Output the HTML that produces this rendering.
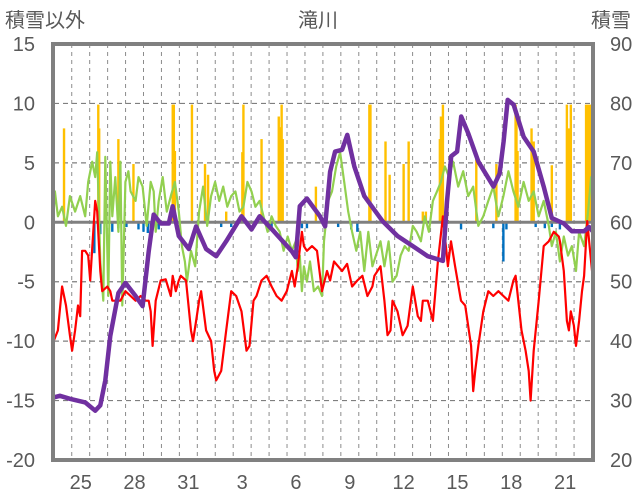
<!DOCTYPE html>
<html><head><meta charset="utf-8">
<style>
html,body{margin:0;padding:0;background:#fff;}
svg{display:block;font-family:"Liberation Sans","Noto Sans CJK JP",sans-serif;}
.tk{font-size:20px;fill:#595959;}
</style></head>
<body>
<svg id="chart" width="636" height="501" viewBox="0 0 636 501">
<text x="5" y="27" class="tk">積雪以外</text>
<text x="318" y="27" class="tk" text-anchor="middle">滝川</text>
<text x="631" y="27" class="tk" text-anchor="end">積雪</text>
<defs><clipPath id="pc"><rect x="54" y="44" width="538" height="416"/></clipPath></defs>
<g id="grid"></g>
<g id="bars" clip-path="url(#pc)"></g>
<g id="lines" clip-path="url(#pc)"></g>
<rect x="53" y="44" width="540" height="416" fill="none" stroke="#808080" stroke-width="4"/>
<g id="axes"></g>
</svg>
<script>
const leftTicks=[15,10,5,0,-5,-10,-15,-20];
const rightTicks=[90,80,70,60,50,40,30,20];
const dayLabels=["25","28","31","3","6","9","12","15","18","21"];
const dayLabelOffsets=[0,3,6,9,12,15,18,21,24,27];
const orangeT=[-0.43,1.48,1.53,2.60,3.44,5.63,5.69,5.75,6.70,7.43,7.60,8.61,9.51,9.57,10.58,11.54,11.59,11.70,11.76,13.61,16.59,16.65,17.49,17.72,18.50,18.78,19.57,19.74,20.52,20.58,20.69,22.55,23.67,24.74,24.79,24.85,25.63,25.75,26.76,27.60,27.71,27.82,28.67,28.78,28.89];
const orangeV=[7.9,9.9,7.9,7.0,4.9,9.9,9.9,6.0,9.9,4.9,4.0,0.9,5.9,9.9,7.0,8.9,8.0,9.9,7.0,3.0,9.9,9.9,6.8,4.0,4.9,6.8,0.9,0.9,7.0,8.9,9.9,5.9,4.9,9.9,8.9,6.0,7.9,6.8,4.8,9.9,7.9,9.9,9.9,9.9,9.9];
const blueT=[1.26,1.59,2.26,2.60,3.05,3.72,4.0,4.24,4.40,4.85,8.33,8.89,11.14,12.66,12.83,13.11,14.85,15.58,15.92,21.70,23.50,24.06,24.23,25.86,26.37,26.76,27.21];
const blueV=[-2.6,-1.0,-0.8,-0.5,-0.4,-0.6,-0.8,-0.9,-0.6,-0.6,-0.4,-0.4,-0.6,-0.8,-0.5,-0.5,-0.4,-0.6,-0.8,-0.6,-0.5,-3.3,-0.6,-0.4,-0.5,-0.4,-0.6];
const greenT=[-1.67,-1.5,-1.33,-1.11,-0.94,-0.77,-0.54,-0.32,-0.1,0.19,0.47,0.75,0.92,1.14,1.31,1.42,1.59,1.76,1.87,2.04,2.15,2.26,2.43,2.60,2.71,2.82,2.99,3.16,3.28,3.56,3.72,3.95,4.18,4.40,4.57,4.68,4.85,5.07,5.30,5.52,5.75,5.97,6.14,6.31,6.42,6.65,6.88,7.10,7.32,7.55,7.77,7.99,8.22,8.44,8.67,8.89,9.12,9.35,9.57,9.79,10.02,10.24,10.47,10.69,10.92,11.14,11.37,11.59,11.81,12.04,12.27,12.49,12.60,12.71,12.83,12.94,13.11,13.28,13.50,13.73,13.95,14.06,14.29,14.51,14.74,14.96,15.19,15.41,15.63,15.86,16.08,16.31,16.53,16.76,17.04,17.21,17.43,17.66,17.88,18.11,18.33,18.56,18.78,19.01,19.23,19.46,19.68,19.91,20.13,20.36,20.58,20.80,21.03,21.26,21.54,21.82,22.10,22.38,22.66,22.94,23.22,23.50,23.78,24.06,24.34,24.62,24.90,25.19,25.47,25.75,26.03,26.31,26.59,26.76,26.99,27.21,27.43,27.66,27.88,28.11,28.28,28.56,28.78,28.95,29.12];
const greenV=[2.6,-1.2,2.2,-1.6,2.6,0.5,1.3,-0.3,2.2,0.9,2.2,0.5,3.4,5.1,3.8,5.9,-3.3,-6.6,5.5,-6.2,5.1,0.5,3.8,-0.8,5.1,-7.0,3.4,4.3,2.6,1.8,3.8,3.0,-0.3,3.4,2.6,-0.8,1.8,3.8,0.9,2.2,3.4,0.9,-2.0,-3.3,-5.0,-2.4,-3.7,0.9,3.0,-0.3,2.2,3.4,1.8,3.0,1.3,2.2,2.6,0.9,1.3,3.4,2.6,1.3,1.8,0.5,-0.8,0.5,-0.3,-0.8,-2.4,-1.2,-2.4,-1.6,-4.1,-2.8,-5.8,-3.7,-5.0,-3.3,-5.8,-5.4,-6.2,-1.6,1.8,2.6,4.7,5.9,3.4,0.9,-0.8,-2.4,-0.8,-4.1,-0.8,-3.7,-2.4,-1.6,-3.7,-1.6,-5.0,-4.5,-2.8,-2.0,-2.4,-0.3,-0.8,-1.6,0.5,-0.8,1.8,2.6,3.4,4.7,3.8,5.1,3.0,4.3,2.2,3.0,-0.3,0.5,1.8,3.0,0.5,2.2,4.3,2.6,1.3,3.4,1.8,2.6,0.5,1.8,-0.3,-2.0,-0.8,-3.3,-1.2,-2.8,-2.0,-4.1,-0.8,-2.0,0.9,3.8,1.3];
const redT=[-1.67,-1.5,-1.22,-0.77,-0.54,-0.32,-0.1,0.02,0.19,0.35,0.47,0.58,0.75,0.92,1.03,1.31,1.42,1.59,1.70,1.98,2.15,2.26,2.43,2.71,2.99,3.28,3.56,3.84,4.12,4.29,4.40,4.51,4.68,4.96,5.24,5.52,5.63,5.80,5.97,6.08,6.37,6.65,6.76,6.93,7.10,7.21,7.49,7.77,7.94,8.05,8.33,8.61,8.89,9.17,9.46,9.74,9.91,10.13,10.30,10.58,10.86,11.14,11.42,11.70,11.99,12.27,12.43,12.60,12.83,12.94,13.11,13.39,13.67,13.95,14.23,14.40,14.62,14.85,15.07,15.35,15.63,15.92,16.20,16.48,16.76,16.87,17.21,17.43,17.60,17.77,17.88,18.16,18.44,18.72,19.01,19.29,19.46,19.57,19.85,20.13,20.41,20.69,20.97,21.14,21.37,21.70,21.93,22.26,22.38,22.49,22.66,22.94,23.22,23.50,23.78,24.06,24.34,24.62,24.74,25.07,25.30,25.47,25.58,25.75,26.03,26.31,26.59,26.87,27.15,27.21,27.43,27.60,27.71,27.82,27.99,28.11,28.28,28.44,28.56,28.73,28.95,29.17];
const redV=[-12.5,-14.6,-10.8,-9.1,-5.4,-7.0,-9.5,-10.8,-9.1,-7.0,-7.9,-2.4,-2.4,-2.8,-4.9,1.8,0.9,-4.1,-5.8,-5.4,-5.8,-6.6,-6.6,-6.6,-5.8,-6.2,-6.6,-6.2,-6.6,-6.6,-7.5,-10.4,-6.6,-4.9,-4.8,-6.2,-4.5,-5.8,-4.9,-4.5,-4.9,-9.1,-10.0,-8.3,-6.6,-5.8,-9.1,-10.0,-12.5,-13.3,-12.5,-9.1,-5.8,-6.2,-7.5,-10.8,-10.4,-6.6,-6.2,-4.9,-4.5,-5.4,-6.2,-6.6,-5.8,-4.1,-5.4,-3.7,-0.8,-2.0,-2.4,-2.0,-2.4,-5.8,-4.1,-4.9,-3.3,-3.7,-4.1,-3.5,-5.4,-4.9,-4.5,-6.2,-5.4,-4.5,-3.7,-6.6,-9.5,-9.1,-6.6,-7.5,-9.5,-8.7,-5.4,-7.9,-8.3,-6.6,-6.6,-8.3,-3.3,0.5,-3.7,-1.6,-3.7,-6.6,-7.0,-10.4,-14.2,-12.5,-10.4,-7.5,-5.8,-6.2,-5.8,-6.2,-6.6,-4.9,-4.5,-9.1,-10.8,-12.5,-15.0,-10.8,-6.6,-2.0,-1.6,-0.8,-1.2,-1.6,-4.1,-8.3,-9.1,-7.5,-8.7,-10.4,-8.3,-5.8,-4.5,0.1,-3.3,-6.6];
const snowT=[-1.67,-0.66,-0.1,0.75,1.31,1.59,1.87,2.15,2.6,2.99,3.56,3.95,4.29,4.57,4.96,5.41,5.63,5.97,6.53,6.93,7.49,8.05,8.61,9.46,10.02,10.47,11.26,12.27,12.49,12.71,13.11,13.84,14.12,14.40,14.68,15.07,15.36,15.75,16.31,17.32,18.16,19.01,19.85,20.69,20.92,21.15,21.48,21.71,22.11,22.67,23.51,23.85,24.07,24.30,24.63,25.19,25.75,26.31,26.76,27.43,27.88,28.56,28.84,29.12];
const snowV=[30,30.8,30.3,29.7,28.3,29.2,33.4,40.9,48.1,49.8,47.6,45.9,55.1,61.3,59.8,59.8,62.7,57.7,55.5,59.3,55.5,54.3,56.8,61.0,58.8,61.0,58.5,55.1,54.1,62.7,64.0,61.0,59.3,68.5,71.9,72.2,74.7,69.4,64.4,60.2,57.7,56.0,54.3,53.5,63.5,71.1,71.9,77.8,74.9,70.2,66.0,68.2,73.6,80.6,79.8,74.4,71.9,66.0,60.7,59.8,58.5,58.5,59.2,58.2];

const NS="http://www.w3.org/2000/svg";
const X0=53.8, DAYW=17.94, YTOP=44, YBOT=460;
function xs(t){return X0+(t+1)*DAYW;}
function yl(v){return YTOP+(15-v)*(YBOT-YTOP)/35;}
function yr(v){return YTOP+(90-v)*(YBOT-YTOP)/70;}
function mk(tag,attrs,parent){const e=document.createElementNS(NS,tag);for(const k in attrs)e.setAttribute(k,attrs[k]);parent.appendChild(e);return e;}
const grid=document.getElementById('grid'),bars=document.getElementById('bars'),lines=document.getElementById('lines'),axes=document.getElementById('axes');
for(let d=0;d<29;d++){
  const l=mk('line',{x1:xs(d),x2:xs(d),y1:YTOP,y2:YBOT,stroke:'#8c8c8c','stroke-width':1,'stroke-dasharray':'4,4'},grid);
  
  
}
leftTicks.forEach((v,i)=>{
  if(v!==0&&v!==15&&v!==-20){
    const l=mk('line',{x1:54,x2:592,y1:yl(v),y2:yl(v),stroke:'#7f7f7f','stroke-width':1.2,'stroke-dasharray':'5,4'},grid);
    
    
  }
  const t=mk('text',{x:35,y:yl(v)+7,'text-anchor':'end',class:'tk'},axes);t.textContent=String(v);
  
  
});
rightTicks.forEach(v=>{
  const t=mk('text',{x:610,y:yr(v)+7,class:'tk'},axes);t.textContent=String(v);
  
  
});
dayLabels.forEach((s,i)=>{
  const t=mk('text',{x:xs(dayLabelOffsets[i]+0.5),y:489,'text-anchor':'middle',class:'tk'},axes);t.textContent=s;
  
  
});
orangeT.forEach((t,i)=>{
  const y=yl(orangeV[i]),y0=yl(0);
  const r=mk('rect',{x:xs(t)-1.2,y:y,width:2.4,height:y0-y,fill:'#ffc000'},bars);
  
  
});
blueT.forEach((t,i)=>{
  const y0=yl(0),y=yl(blueV[i]);
  const r=mk('rect',{x:xs(t)-1.2,y:y0,width:2.4,height:y-y0,fill:'#0070c0'},bars);
  
  
});
const zl=mk('line',{x1:54,x2:592,y1:yl(0),y2:yl(0),stroke:'#808080','stroke-width':3},bars);


function path(T,V,fy,color,w,name){
  let d='';T.forEach((t,i)=>{d+=(i?'L':'M')+xs(t).toFixed(1)+','+fy(V[i]).toFixed(1);});
  const p=mk('path',{d:d,fill:'none',stroke:color,'stroke-width':w,'stroke-linejoin':'round'},lines);
  
  
}
path(greenT,greenV,yl,'#92d050',2.2,'green-series-line');
path(redT,redV,yl,'#ff0000',2.2,'red-series-line');
path(snowT,snowV,yr,'#7030a0',4.5,'snow-depth-line');
</script>
</body></html>
